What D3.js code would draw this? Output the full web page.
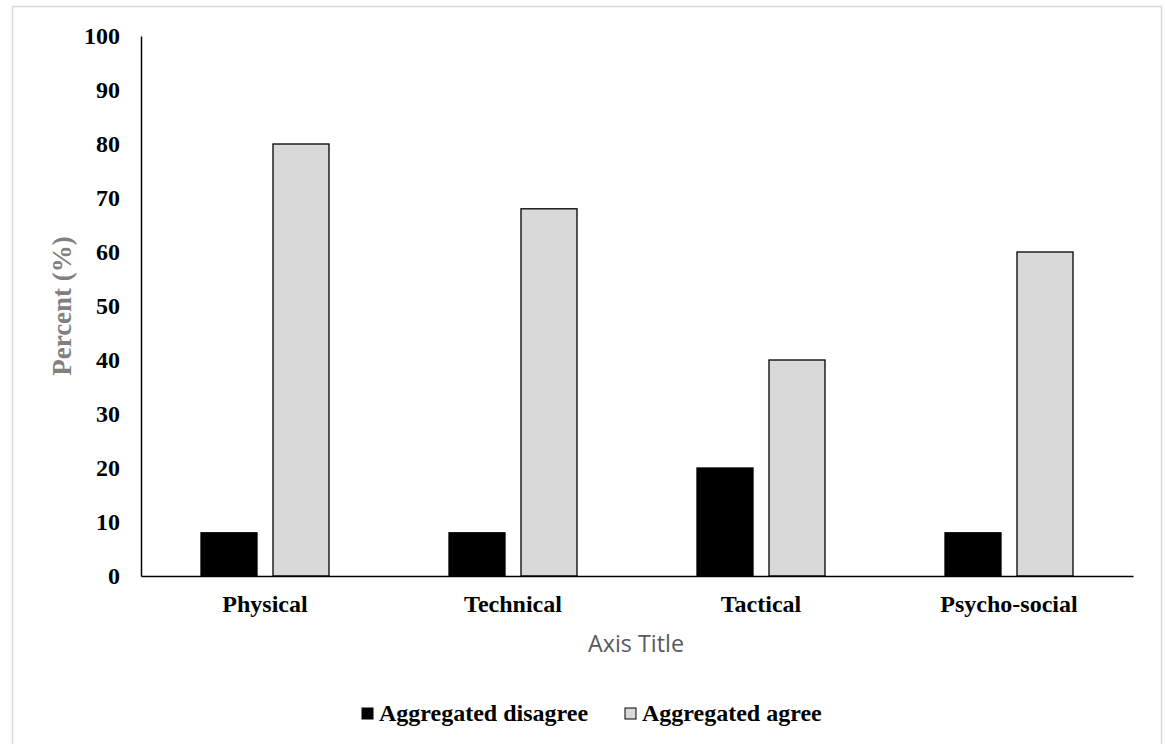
<!DOCTYPE html>
<html><head><meta charset="utf-8">
<script src="https://cdn.jsdelivr.net/npm/d3@7"></script>
<style>body{margin:0;background:#fff}svg{display:block}</style>
</head><body>
<script>
const categories = ["Physical", "Technical", "Tactical", "Psycho-social"];
const seriesNames = ["Aggregated disagree", "Aggregated agree"];
const disagree = [8, 8, 20, 8];
const agree = [80, 68, 40, 60];
const yTicks = [0, 10, 20, 30, 40, 50, 60, 70, 80, 90, 100];
const colors = ["#000000", "#d9d9d9"];

const W = 1165, H = 744;
const svg = d3.select("body").append("svg").attr("width", W).attr("height", H);
svg.append("rect").attr("x", 12.5).attr("y", 6.5).attr("width", 1149).attr("height", 760)
  .attr("fill", "#fff").attr("stroke", "#d9d9d9").attr("stroke-width", 1.5);

const x0 = d3.scaleBand().domain(categories).range([141, 1133]);
const y = d3.scaleLinear().domain([0, 100]).range([576, 36]);
const serif = "'Liberation Serif', 'Times New Roman', serif";

const data = categories.map((c, i) => ({cat: c, vals: [disagree[i], agree[i]]}));
const barW = 56, gap = 16;
const g = svg.append("g");
data.forEach(d => {
  const cx = x0(d.cat) + x0.bandwidth() / 2;
  d.vals.forEach((v, k) => {
    const left = k === 0 ? cx - gap / 2 - barW : cx + gap / 2;
    g.append("rect").attr("x", left).attr("y", y(v)).attr("width", barW).attr("height", y(0) - y(v))
      .attr("fill", colors[k]).attr("stroke", "#000").attr("stroke-width", 1.3);
  });
});

// y axis
const ya = svg.append("g").attr("transform", "translate(141,0)")
  .call(d3.axisLeft(y).tickValues(yTicks).tickSize(0).tickPadding(21));
ya.select(".domain").attr("stroke", "#000").attr("stroke-width", 1.5);
ya.selectAll("text").attr("font-family", serif).attr("font-weight", "bold").attr("font-size", 24).attr("fill", "#000");

// x axis
const xa = svg.append("g").attr("transform", "translate(0,576)")
  .call(d3.axisBottom(x0).tickSize(0).tickPadding(19));
xa.select(".domain").attr("stroke", "#000").attr("stroke-width", 1.5);
xa.selectAll("text").attr("font-family", serif).attr("font-weight", "bold").attr("font-size", 24).attr("fill", "#000");

svg.append("text").attr("transform", "translate(71,306) rotate(-90)").attr("text-anchor", "middle")
  .attr("font-family", serif).attr("font-weight", "bold").attr("font-size", 27).attr("fill", "#808080")
  .text("Percent (%)");

svg.append("text").attr("x", 636).attr("y", 652).attr("text-anchor", "middle")
  .attr("font-family", "'Open Sans', 'Noto Sans', sans-serif").attr("font-size", 23).attr("fill", "#595959")
  .attr("textLength", 96).attr("lengthAdjust", "spacingAndGlyphs")
  .text("Axis Title");

// legend
const legX = [362, 625];
seriesNames.forEach((n, k) => {
  svg.append("rect").attr("x", legX[k]).attr("y", 708).attr("width", 11).attr("height", 11)
    .attr("fill", colors[k]).attr("stroke", "#000").attr("stroke-width", 1);
  svg.append("text").attr("x", legX[k] + 17).attr("y", 721)
    .attr("font-family", serif).attr("font-weight", "bold").attr("font-size", 24).attr("fill", "#000").text(n);
});
</script>
</body></html>
